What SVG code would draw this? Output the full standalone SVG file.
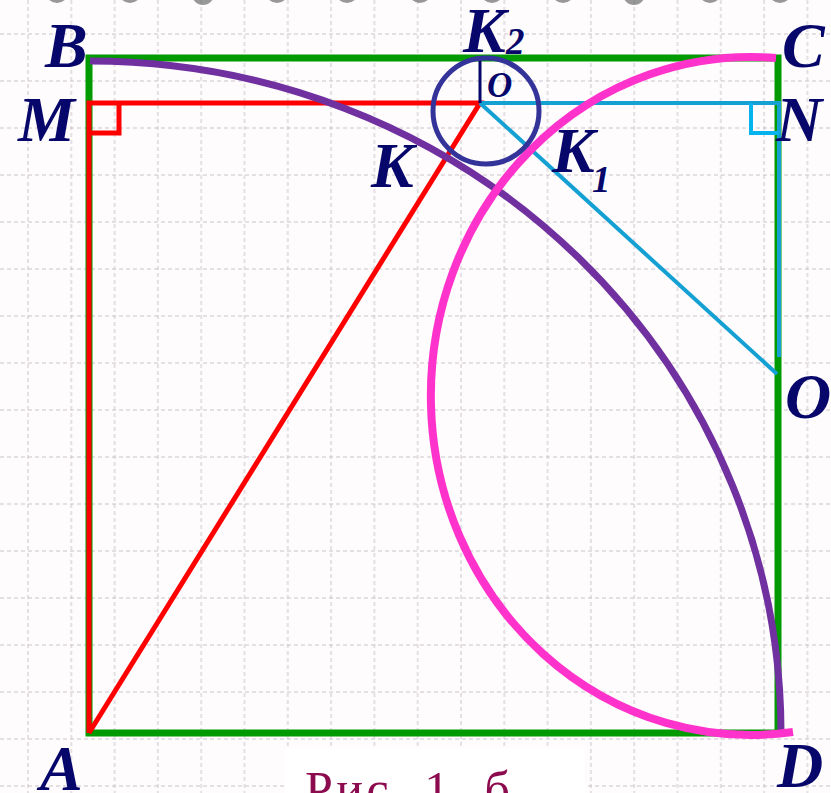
<svg xmlns="http://www.w3.org/2000/svg" width="831" height="793" viewBox="0 0 831 793">
<defs>
<style>
.grid line{stroke:#cdc6ca;stroke-width:2;stroke-dasharray:4 3;opacity:0.5}
.lbl{font-family:"Liberation Serif","Times New Roman",serif;font-style:italic;font-weight:bold;fill:#07076b}
.big{font-size:64px}
.sub{font-size:37px}
.ring{fill:#6e6e6e;opacity:0.7}
</style>
</defs>
<rect x="0" y="0" width="831" height="793" fill="#fefcfd"/>
<g id="grid" class="grid">
<line x1="28" y1="0" x2="28" y2="793"/><line x1="71.3" y1="0" x2="71.3" y2="793"/><line x1="114.6" y1="0" x2="114.6" y2="793"/><line x1="157.9" y1="0" x2="157.9" y2="793"/><line x1="201.2" y1="0" x2="201.2" y2="793"/><line x1="244.5" y1="0" x2="244.5" y2="793"/><line x1="287.8" y1="0" x2="287.8" y2="793"/><line x1="331.1" y1="0" x2="331.1" y2="793"/><line x1="374.4" y1="0" x2="374.4" y2="793"/><line x1="417.7" y1="0" x2="417.7" y2="793"/><line x1="461" y1="0" x2="461" y2="793"/><line x1="504.3" y1="0" x2="504.3" y2="793"/><line x1="547.6" y1="0" x2="547.6" y2="793"/><line x1="590.9" y1="0" x2="590.9" y2="793"/><line x1="634.2" y1="0" x2="634.2" y2="793"/><line x1="677.5" y1="0" x2="677.5" y2="793"/><line x1="720.8" y1="0" x2="720.8" y2="793"/><line x1="764.1" y1="0" x2="764.1" y2="793"/><line x1="807.4" y1="0" x2="807.4" y2="793"/>
<line x1="0" y1="34" x2="831" y2="34"/><line x1="0" y1="81" x2="831" y2="81"/><line x1="0" y1="128" x2="831" y2="128"/><line x1="0" y1="175" x2="831" y2="175"/><line x1="0" y1="222" x2="831" y2="222"/><line x1="0" y1="269" x2="831" y2="269"/><line x1="0" y1="316" x2="831" y2="316"/><line x1="0" y1="363" x2="831" y2="363"/><line x1="0" y1="410" x2="831" y2="410"/><line x1="0" y1="457" x2="831" y2="457"/><line x1="0" y1="504" x2="831" y2="504"/><line x1="0" y1="551" x2="831" y2="551"/><line x1="0" y1="598" x2="831" y2="598"/><line x1="0" y1="645" x2="831" y2="645"/><line x1="0" y1="692" x2="831" y2="692"/><line x1="0" y1="739" x2="831" y2="739"/><line x1="0" y1="786" x2="831" y2="786"/>
</g>
<g id="rings">
<ellipse class="ring" cx="57" cy="-7" rx="11" ry="10"/><ellipse class="ring" cx="130" cy="-7" rx="11" ry="10"/><ellipse class="ring" cx="203" cy="-6" rx="11" ry="11"/><ellipse class="ring" cx="277" cy="-7" rx="11" ry="10"/><ellipse class="ring" cx="347" cy="-7" rx="11" ry="10"/><ellipse class="ring" cx="420" cy="-7" rx="11" ry="10"/><ellipse class="ring" cx="492" cy="-7" rx="11" ry="10"/><ellipse class="ring" cx="563" cy="-7" rx="11" ry="10"/><ellipse class="ring" cx="634" cy="-6" rx="11" ry="11"/><ellipse class="ring" cx="710" cy="-7" rx="11" ry="10"/><ellipse class="ring" cx="780" cy="-7" rx="11" ry="10"/>
</g>
<g id="square-ABCD">
<path d="M89 733 V58 H778 V733 Z" fill="none" stroke="#019a01" stroke-width="7" stroke-linejoin="miter"/>
</g>
<g id="connectors">
<g id="red-lines" fill="none" stroke="#ff0000" stroke-width="5">
<path d="M89 733 V103 H480 L89 733"/>
<path d="M89 133 H119 V103"/>
</g>
<g id="cyan-lines" fill="none" stroke="#14a0d2" stroke-width="4">
<path d="M480 103 H779 V357"/>
<path d="M480 103 L777 374"/>
<path d="M779 133 H751 V103" stroke="#05b4ef"/>
</g>
<line id="OK2" x1="480" y1="59" x2="480" y2="103" stroke="#07076b" stroke-width="3"/>
</g>
<g id="arc-BD">
<path d="M90 61 A691 672 0 0 1 781 733" fill="none" stroke="#7030a0" stroke-width="7"/>
</g>
<g id="arc-CD">
<path d="M776 58 A320 339 0 1 0 793 732" fill="none" stroke="#ff33cc" stroke-width="8"/>
</g>
<g id="circle-O">
<circle cx="486" cy="111" r="53" fill="none" stroke="#333399" stroke-width="5"/>
</g>
<g id="labels" class="lbl">
<text class="big" x="45" y="67">B</text>
<text class="big" x="463" y="52">K</text><text class="sub" x="506" y="54">2</text>
<text class="big" x="782" y="67">C</text>
<text class="big" x="18" y="141">M</text>
<text class="big" x="776" y="141">N</text>
<text class="big" x="371" y="187">K</text>
<text class="big" x="552" y="172">K</text><text class="sub" x="592" y="192">1</text>
<text x="487" y="97" font-size="35">O</text>
<text class="big" x="785" y="418">O</text>
<text class="big" x="40" y="790">A</text>
<text class="big" x="777" y="787">D</text>
</g>
<g id="caption">
<rect x="285" y="748" width="300" height="50" fill="#ffffff"/>
<text x="305" y="806" font-family="Liberation Serif,Times New Roman,serif" font-size="50" fill="#8c0a4e" textLength="205" lengthAdjust="spacing">Рис. 1. б</text>
</g>
</svg>
